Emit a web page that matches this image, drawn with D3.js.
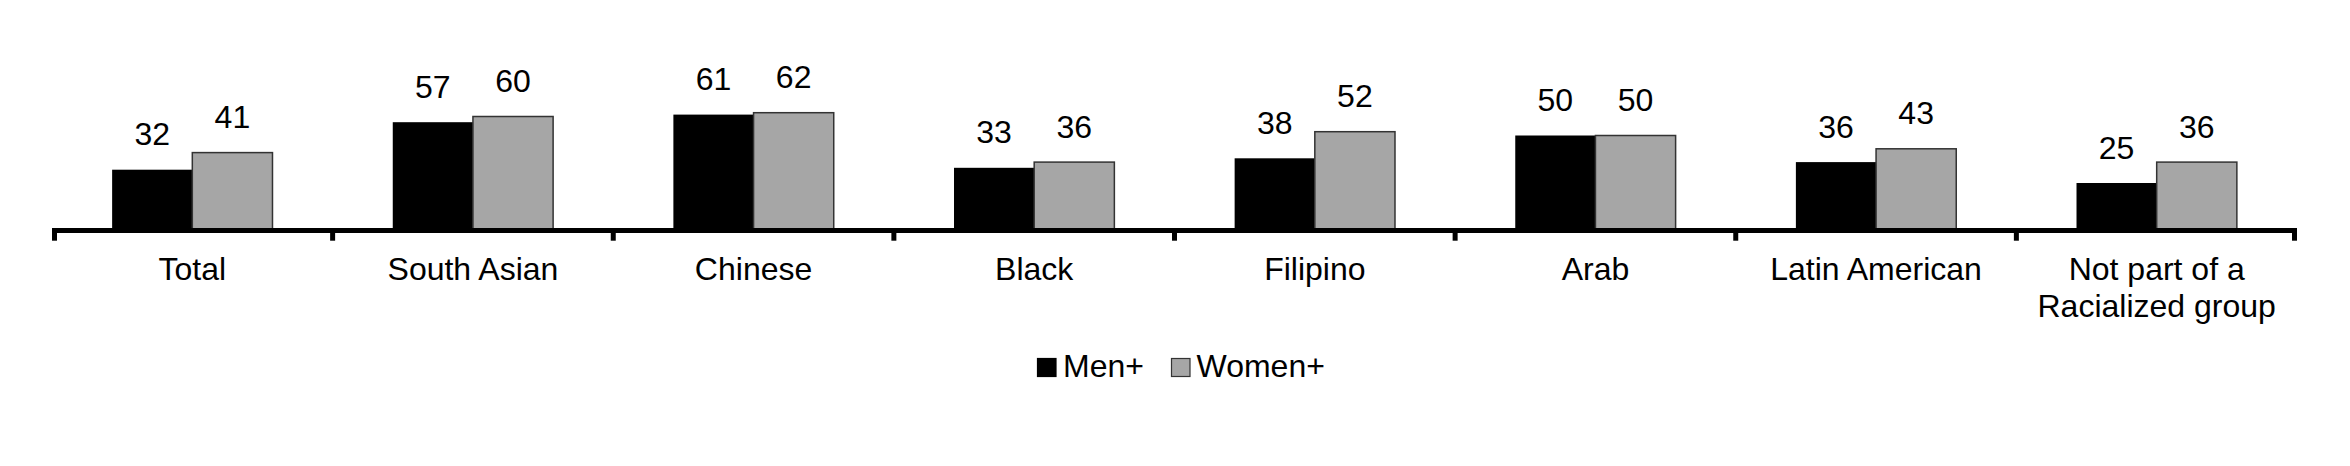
<!DOCTYPE html>
<html>
<head>
<meta charset="utf-8">
<script src="https://cdn.jsdelivr.net/npm/d3@7"></script>
<style>
  html, body { margin: 0; padding: 0; background: #fff; }
  svg { display: block; }
  text { font-family: "Liberation Sans", Arial, sans-serif; fill: #000; }
</style>
</head>
<body>
<svg id="chart" width="2350" height="466"></svg>
<script>
const categories = ["Total", "South Asian", "Chinese", "Black", "Filipino", "Arab", "Latin American", "Not part of a\nRacialized group"];
const seriesNames = ["Men+", "Women+"];
const menValues = [32, 57, 61, 33, 38, 50, 36, 25];
const womenValues = [41, 60, 62, 36, 52, 50, 43, 36];
const seriesColors = ["#000000", "#a6a6a6"];

const svg = d3.select("#chart");
const W = 2350, H = 466;
const baseY = 230.5;

const x0 = d3.scaleBand().domain(categories).range([52, 2297]).padding(0);
const x1 = d3.scaleBand().domain(seriesNames).range([0, x0.bandwidth()]).paddingInner(0).paddingOuter(0.75);
const y = d3.scaleLinear().domain([0, 70]).range([baseY, baseY - 70 * 1.9]);

const data = categories.map((c, i) => ({
  cat: c,
  vals: [
    { key: seriesNames[0], v: menValues[i], color: seriesColors[0] },
    { key: seriesNames[1], v: womenValues[i], color: seriesColors[1] }
  ]
}));

const g = svg.append("g");
const groups = g.selectAll("g.grp").data(data).join("g")
  .attr("class", "grp")
  .attr("transform", d => `translate(${x0(d.cat)},0)`);

groups.selectAll("rect").data(d => d.vals).join("rect")
  .attr("x", d => x1(d.key))
  .attr("y", d => y(d.v))
  .attr("width", x1.bandwidth())
  .attr("height", d => y(0) - y(d.v))
  .attr("fill", d => d.color)
  .attr("stroke", d => d.key === "Women+" ? "#333" : "none")
  .attr("stroke-width", 1.5);

groups.selectAll("text.val").data(d => d.vals).join("text")
  .attr("class", "val")
  .attr("x", d => x1(d.key) + x1.bandwidth() / 2)
  .attr("y", d => y(d.v) - 24.5)
  .attr("text-anchor", "middle")
  .attr("font-size", 32)
  .text(d => d3.format("d")(d.v));

// axis line
const [r0, r1] = x0.range();
g.append("line")
  .attr("x1", r0).attr("x2", r1)
  .attr("y1", baseY).attr("y2", baseY)
  .attr("stroke", "#000").attr("stroke-width", 5);

// tick marks at band boundaries
const tickPos = categories.map(c => x0(c)).concat([r1]);
g.selectAll("line.tick").data(tickPos).join("line")
  .attr("class", "tick")
  .attr("x1", (d, i) => i === 0 ? d + 2.5 : (i === tickPos.length - 1 ? d - 2.5 : d))
  .attr("x2", (d, i) => i === 0 ? d + 2.5 : (i === tickPos.length - 1 ? d - 2.5 : d))
  .attr("y1", baseY)
  .attr("y2", 240.7)
  .attr("stroke", "#000").attr("stroke-width", 5);

// category labels
const catLabels = g.selectAll("text.cat").data(categories).join("text")
  .attr("class", "cat")
  .attr("text-anchor", "middle")
  .attr("font-size", 32)
  .attr("x", d => x0(d) + x0.bandwidth() / 2)
  .attr("y", 280);
catLabels.each(function(d) {
  const lines = d.split("\n");
  const t = d3.select(this);
  lines.forEach((ln, i) => {
    t.append("tspan")
      .attr("x", x0(d) + x0.bandwidth() / 2)
      .attr("dy", i === 0 ? 0 : 37)
      .text(ln);
  });
});

// legend
const legendItems = [
  { key: seriesNames[0], color: seriesColors[0], sx: 1037.5, tx: 1063 },
  { key: seriesNames[1], color: seriesColors[1], sx: 1171.5, tx: 1196.5 }
];
const lg = svg.append("g");
lg.selectAll("rect").data(legendItems).join("rect")
  .attr("x", d => d.sx)
  .attr("y", 358.5)
  .attr("width", 18.5)
  .attr("height", 18)
  .attr("fill", d => d.color)
  .attr("stroke", d => d.key === "Women+" ? "#333" : "#000")
  .attr("stroke-width", 1.2);
lg.selectAll("text").data(legendItems).join("text")
  .attr("x", d => d.tx)
  .attr("y", 376.7)
  .attr("font-size", 32)
  .text(d => d.key);
</script>
</body>
</html>
